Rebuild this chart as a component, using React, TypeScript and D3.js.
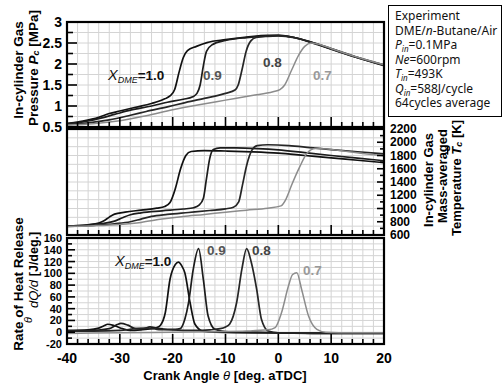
import * as d3 from 'd3';

// X_DME series, drawn in this order
const seriesNames = ['1.0', '0.9', '0.8', '0.7'];
const lineColors = ['#111111', '#1c1c1c', '#262626', '#8c8c8c'];
const labelColors = ['#111111', '#555555', '#444444', '#9a9a9a'];

// in-cylinder pressure [MPa] vs crank angle [deg]
const pressure10 = [[-40, 0.58], [-37, 0.64], [-34, 0.73], [-32, 0.82], [-30, 0.88], [-27, 0.97], [-24, 1.06], [-21.5, 1.17], [-20.5, 1.24], [-19.6, 1.4], [-18.8, 1.8], [-18, 2.15], [-17.2, 2.32], [-15.5, 2.42], [-13.5, 2.51], [-10, 2.58], [-6, 2.64], [-2, 2.68], [0, 2.68], [3, 2.63], [6, 2.53], [10, 2.36], [15, 2.15], [20, 1.97]];
const pressure09 = [[-40, 0.58], [-37, 0.62], [-34, 0.7], [-31, 0.8], [-28, 0.9], [-24, 1.0], [-21, 1.09], [-18, 1.16], [-16.2, 1.22], [-15.4, 1.3], [-14.8, 1.5], [-14.2, 1.95], [-13.6, 2.3], [-12.5, 2.46], [-10, 2.56], [-6, 2.63], [-2, 2.67], [0, 2.68], [3, 2.63], [6, 2.52], [10, 2.35], [15, 2.15], [20, 1.96]];
const pressure08 = [[-40, 0.56], [-36, 0.6], [-32, 0.67], [-28, 0.78], [-25, 0.87], [-21, 0.98], [-18, 1.07], [-14, 1.18], [-10, 1.3], [-8.2, 1.38], [-7.6, 1.5], [-6.9, 1.85], [-6.1, 2.3], [-5.2, 2.55], [-4.2, 2.63], [-2, 2.66], [0, 2.67], [3, 2.63], [6, 2.53], [10, 2.37], [15, 2.16], [20, 1.98]];
const pressure07 = [[-40, 0.55], [-35, 0.58], [-30, 0.65], [-25, 0.77], [-20, 0.91], [-15, 1.03], [-10, 1.14], [-5, 1.25], [-1, 1.34], [0.3, 1.39], [1.2, 1.5], [2.5, 1.85], [3.8, 2.2], [5, 2.42], [6.2, 2.5], [8, 2.46], [10, 2.37], [15, 2.16], [20, 1.98]];

// mass-averaged gas temperature [K]
const temp10 = [[-40, 735], [-36, 755], [-34, 780], [-33, 815], [-32, 870], [-31, 915], [-29, 945], [-26, 975], [-23, 1005], [-21.5, 1030], [-20.5, 1090], [-19.5, 1300], [-18.5, 1600], [-17.5, 1800], [-16.5, 1860], [-14, 1875], [-10, 1868], [-5, 1855], [0, 1835], [5, 1800], [10, 1765], [15, 1728], [20, 1692]];
const temp09 = [[-40, 733], [-36, 750], [-33, 775], [-31, 810], [-29.5, 860], [-28, 905], [-26, 935], [-22, 965], [-18, 992], [-16, 1012], [-15, 1050], [-14.2, 1150], [-13.6, 1450], [-13, 1750], [-12.3, 1890], [-11, 1915], [-8, 1915], [-4, 1905], [0, 1885], [5, 1842], [10, 1800], [15, 1760], [20, 1721]];
const temp08 = [[-40, 730], [-35, 745], [-31, 770], [-28, 800], [-26, 840], [-24, 880], [-21, 910], [-17, 940], [-13, 970], [-10, 995], [-8.5, 1020], [-7.5, 1100], [-6.8, 1350], [-6, 1650], [-5, 1880], [-4, 1950], [-2, 1962], [2, 1950], [6, 1920], [10, 1890], [15, 1857], [20, 1826]];
const temp07 = [[-40, 728], [-35, 740], [-30, 760], [-26, 790], [-22, 840], [-18, 880], [-14, 910], [-10, 945], [-6, 975], [-2, 1005], [0.5, 1040], [1.5, 1150], [2.5, 1350], [4, 1620], [5.5, 1840], [7, 1905], [9, 1900], [12, 1870], [16, 1830], [20, 1798]];

// rate of heat release [J/deg]
const hrr10 = [[-40, 3], [-36, 4], [-34, 7], [-33, 11], [-32.3, 13.5], [-31, 11], [-29.5, 6], [-28, 3], [-26, 4], [-24, 6], [-23, 8], [-22.3, 12], [-21.4, 33], [-20.5, 90], [-19.5, 115], [-18.9, 119], [-18.3, 113], [-17.7, 101], [-16.7, 50], [-15.8, 14], [-14.3, 2], [-12, 0], [-5, -1], [0, -1], [10, -2], [20, -2]];
const hrr09 = [[-40, 2], [-35, 3], [-32, 6], [-30.5, 13], [-29.8, 15], [-28.5, 12], [-27, 6], [-25.5, 6], [-24.3, 9], [-23, 7], [-21, 5], [-19.5, 5], [-18.6, 6], [-17.7, 22], [-17, 50], [-16.1, 107], [-15.1, 142], [-14.2, 90], [-13.3, 28], [-12, 5], [-10, 1], [-5, 0], [0, -1], [10, -2], [20, -2]];
const hrr08 = [[-40, 2], [-35, 2], [-30, 3], [-27, 6], [-25, 7], [-23, 5], [-20, 4], [-16, 3], [-13, 4], [-11, 6], [-10, 9], [-9.2, 14], [-7.9, 50], [-6.9, 107], [-6, 142], [-5.1, 118], [-4.1, 73], [-3.2, 22], [-1.9, 2], [0, -1], [10, -1], [20, -1]];
const hrr07 = [[-40, -2], [-30, -1], [-20, 0], [-12, 1], [-6, 2], [-2, 4], [-0.6, 8], [0.6, 33], [1.9, 78], [2.7, 98], [3.5, 101], [4.4, 73], [5.7, 28], [7.3, 5], [9, 0], [14, -1], [20, -1]];

const pressureSeries = [pressure10, pressure09, pressure08, pressure07];
const tempSeries = [temp10, temp09, temp08, temp07];
const hrrSeries = [hrr10, hrr09, hrr08, hrr07];

const xTicks = [-40, -30, -20, -10, 0, 10, 20];
const pTicks = [0.5, 1, 1.5, 2, 2.5, 3];
const tTicks = [600, 800, 1000, 1200, 1400, 1600, 1800, 2000, 2200];
const hTicks = [-20, 0, 20, 40, 60, 80, 100, 120, 140, 160];

const legendLines = ['Experiment', 'DME/n-Butane/Air', 'Pin=0.1MPa', 'Ne=600rpm', 'Tin=493K', 'Qin=588J/cycle', '64cycles  average'];

const W = 504;
const H = 384;
const X0 = 67;
const X1 = 384;
const FONT = 'Arial, Liberation Sans, sans-serif';

const x = d3.scaleLinear().domain([-40, 20]).range([X0, X1]);
const yP = d3.scaleLinear().domain([0.5, 3]).range([127, 22]);
const yT = d3.scaleLinear().domain([600, 2200]).range([235, 129]);
const yH = d3.scaleLinear().domain([-20, 160]).range([344, 238]);

const mkLine = (y) =>
  d3.line().x((d) => x(d[0])).y((d) => y(d[1])).curve(d3.curveMonotoneX);

const Panel = ({ y, step, series }) => {
  const [lo, hi] = y.domain();
  const hGrid = d3.range(lo, hi + step / 2, step);
  const vGrid = d3.range(-40, 21, 2);
  const line = mkLine(y);
  const top = y(hi);
  const bot = y(lo);
  return (
    <g>
      {hGrid.map((v, i) => (
        <line key={'h' + i} x1={X0} x2={X1} y1={y(v)} y2={y(v)} stroke='#d4d4d4' strokeWidth={1} />
      ))}
      {vGrid.map((v) => (
        <line key={'v' + v} x1={x(v)} x2={x(v)} y1={top} y2={bot} stroke='#d4d4d4' strokeWidth={1} />
      ))}
      {series.map((s, i) => (
        <path key={i} d={line(s)} fill='none' stroke={lineColors[i]} strokeWidth={i === 3 ? 1.5 : 1.7} />
      ))}
      {vGrid.map((v) => (
        <line key={'t' + v} x1={x(v)} x2={x(v)} y1={bot} y2={bot - (v % 10 === 0 ? 10 : 5)} stroke='#000' strokeWidth={1.6} />
      ))}
      <rect x={X0} y={top} width={X1 - X0} height={bot - top} fill='none' stroke='#000' strokeWidth={2.2} />
    </g>
  );
};

const XLabel = ({ x0, y0, color }) => (
  <text x={x0} y={y0} fontFamily={FONT} fontSize={13.5} fontWeight='bold' fill={color}>
    <tspan fontStyle='italic' fontWeight='normal' fontSize={14.5}>X</tspan>
    <tspan fontStyle='italic' fontWeight='normal' fontSize={9} baselineShift='-3'>DME</tspan>
    <tspan>=1.0</tspan>
  </text>
);

export default function App() {
  const pLeft = d3.range(0.5, 3.01, 0.25);
  const tRight = d3.range(600, 2201, 100);
  const hLeft = d3.range(-20, 161, 10);
  const rot = (cx, cy) => `translate(${cx},${cy}) rotate(-90)`;
  const boldText = { fontFamily: FONT, fontWeight: 'bold', fontSize: 13 };

  return (
    <svg width={W} height={H} style={{ position: 'absolute', left: 0, top: 0, background: '#fff' }}>
      <rect width={W} height={H} fill='#fff' />
      <Panel y={yP} step={0.25} series={pressureSeries} />
      <Panel y={yT} step={1600 / 12} series={tempSeries} />
      <Panel y={yH} step={10} series={hrrSeries} />

      {/* left ticks, pressure */}
      {pLeft.map((v, i) => (
        <line key={'pl' + i} x1={X0} x2={X0 + (i % 2 === 0 ? 10 : 6)} y1={yP(v)} y2={yP(v)} stroke='#000' strokeWidth={1.6} />
      ))}
      {pTicks.map((v) => (
        <text key={'pt' + v} x={62} y={yP(v)} textAnchor='end' dominantBaseline='central' {...boldText} fontSize={14}>{v}</text>
      ))}

      {/* right ticks, temperature */}
      {tRight.map((v) => (
        <line key={'tr' + v} x1={X1} x2={X1 - (v % 200 === 0 ? 7 : 4)} y1={yT(v)} y2={yT(v)} stroke='#000' strokeWidth={1.6} />
      ))}
      {tTicks.map((v) => (
        <text key={'tt' + v} x={390} y={yT(v)} dominantBaseline='central' {...boldText} fontSize={12}>{v}</text>
      ))}

      {/* left ticks, heat release */}
      {hLeft.map((v) => (
        <line key={'hl' + v} x1={X0} x2={X0 + (v % 20 === 0 ? 8 : 5)} y1={yH(v)} y2={yH(v)} stroke='#000' strokeWidth={1.6} />
      ))}
      {hTicks.map((v) => (
        <text key={'ht' + v} x={62} y={yH(v)} textAnchor='end' dominantBaseline='central' {...boldText} fontSize={11}>{v}</text>
      ))}

      {/* x tick labels */}
      {xTicks.map((v) => (
        <text key={'xt' + v} x={x(v)} y={358} textAnchor='middle' dominantBaseline='central' {...boldText} fontSize={14}>{v}</text>
      ))}
      <text x={225} y={375} textAnchor='middle' dominantBaseline='central' {...boldText}>
        Crank Angle <tspan fontStyle='italic' fontWeight='normal'>θ</tspan> [deg. aTDC]
      </text>

      {/* left axis titles */}
      <text transform={rot(18, 70)} textAnchor='middle' dominantBaseline='central' {...boldText} fontSize={13.5}>In-cylinder Gas</text>
      <text transform={rot(33, 68)} textAnchor='middle' dominantBaseline='central' {...boldText} fontSize={13.5}>
        Pressure <tspan fontStyle='italic'>P</tspan><tspan fontStyle='italic' fontSize={9} baselineShift='-3'>c</tspan><tspan> [MPa]</tspan>
      </text>
      <text transform={rot(18, 284)} textAnchor='middle' dominantBaseline='central' {...boldText} fontSize={13.5}>Rate of Heat Release</text>
      <text transform={rot(33, 294)} textAnchor='middle' dominantBaseline='central' {...boldText} fontWeight='normal' fontStyle='italic'>dQ/d</text>
      <text transform={rot(34, 254)} textAnchor='middle' dominantBaseline='central' {...boldText} fontSize={12.5}>[J/deg.]</text>
      <text transform={rot(28, 320)} textAnchor='middle' dominantBaseline='central' {...boldText} fontWeight='normal' fontStyle='italic' fontSize={11}>θ</text>

      {/* right axis title */}
      <text transform={rot(428, 180)} textAnchor='middle' dominantBaseline='central' {...boldText}>In-cylinder Gas</text>
      <text transform={rot(442, 176)} textAnchor='middle' dominantBaseline='central' {...boldText}>Mass-averaged</text>
      <text transform={rot(456, 178)} textAnchor='middle' dominantBaseline='central' {...boldText}>
        Temperature <tspan fontStyle='italic' textDecoration='overline'>T</tspan><tspan fontStyle='italic' fontSize={9} baselineShift='-3'>c</tspan><tspan> [K]</tspan>
      </text>

      {/* series labels, pressure panel */}
      <XLabel x0={108} y0={80} color={labelColors[0]} />
      <text x={203} y={80} {...boldText} fontSize={13.5} fill={labelColors[1]}>{seriesNames[1]}</text>
      <text x={263} y={67} {...boldText} fontSize={13.5} fill={labelColors[2]}>{seriesNames[2]}</text>
      <text x={313} y={80} {...boldText} fontSize={13.5} fill={labelColors[3]}>{seriesNames[3]}</text>

      {/* series labels, heat release panel */}
      <XLabel x0={115} y0={266} color={labelColors[0]} />
      <text x={207} y={255} {...boldText} fontSize={13.5} fill={labelColors[1]}>{seriesNames[1]}</text>
      <text x={252} y={255} {...boldText} fontSize={13.5} fill={labelColors[2]}>{seriesNames[2]}</text>
      <text x={303} y={275} {...boldText} fontSize={13.5} fill={labelColors[3]}>{seriesNames[3]}</text>

      {/* condition box */}
      <rect x={388.5} y={5.5} width={113} height={111} fill='#fff' stroke='#000' strokeWidth={1} />
      {legendLines.map((s, i) => {
        const yy = 20 + i * 14.5;
        const props = { x: 395, y: yy, fontFamily: "'Noto Sans', sans-serif", fontSize: 12, fill: '#111' };
        if (i === 1)
          return (
            <text key={i} {...props}>DME/<tspan fontStyle='italic'>n</tspan>-Butane/Air</text>
          );
        if (i === 2 || i === 4 || i === 5)
          return (
            <text key={i} {...props}>
              <tspan fontStyle='italic'>{s[0]}</tspan>
              <tspan fontStyle='italic' fontSize={8} baselineShift='-3'>in</tspan>
              <tspan>{s.slice(3)}</tspan>
            </text>
          );
        if (i === 3)
          return (
            <text key={i} {...props}>
              <tspan fontStyle='italic'>Ne</tspan>{s.slice(2)}
            </text>
          );
        return <text key={i} {...props}>{s}</text>;
      })}
    </svg>
  );
}
